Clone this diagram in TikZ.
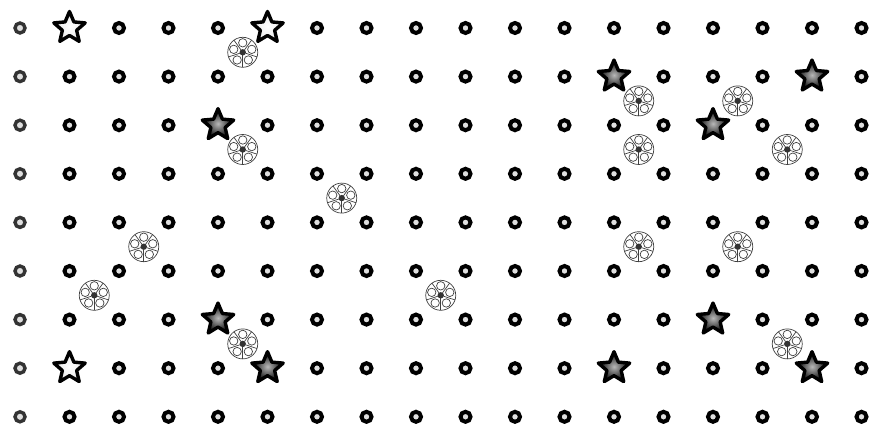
\documentclass[tikz,border=0pt]{standalone}
\usetikzlibrary{shapes.geometric}
\tikzset{
  dotring/.style={circle,draw=black,line width=4pt,minimum size=10pt,inner sep=0pt,fill=gray!25},
  dotringlight/.style={dotring,line width=3.4pt,draw=black!80},
  starbase/.style={star,star points=5,star point ratio=2.2,minimum size=33pt,inner sep=0pt,draw=black,line width=3.4pt,line join=round},
  stardark/.style={starbase,inner color=gray!55,outer color=black},
  starlight/.style={starbase,inner color=white,outer color=gray!20},
  flowerline/.style={draw=gray!50!black,line width=0.7pt},
  flower/.pic={
    \draw[flowerline] (0,0) circle (15pt);
    \foreach \a in {90,162,234,306,378}{
      \draw[flowerline] (\a:9.5pt) circle (4.2pt);
      \draw[flowerline] (\a+36:3pt) -- (\a+36:15pt);
    }
    \fill[gray!40!black] (0,0) circle (3.2pt);
  }
}
\expandafter\def\csname isstar1-0\endcsname{}
\expandafter\def\csname isstar5-0\endcsname{}
\expandafter\def\csname isstar4-2\endcsname{}
\expandafter\def\csname isstar4-6\endcsname{}
\expandafter\def\csname isstar1-7\endcsname{}
\expandafter\def\csname isstar5-7\endcsname{}
\expandafter\def\csname isstar12-1\endcsname{}
\expandafter\def\csname isstar16-1\endcsname{}
\expandafter\def\csname isstar14-2\endcsname{}
\expandafter\def\csname isstar14-6\endcsname{}
\expandafter\def\csname isstar12-7\endcsname{}
\expandafter\def\csname isstar16-7\endcsname{}
\begin{document}
\begin{tikzpicture}[x=1pt,y=-1pt]
  \fill[white] (0,0) rectangle (871,425);
  \useasboundingbox (0,0) rectangle (871,425);
  % grid of ring dots
  \foreach \i in {0,...,17}{
    \foreach \j in {0,...,8}{
      \pgfmathsetmacro\px{20+49.5*\i}
      \pgfmathsetmacro\py{28+48.6*\j}
      \ifcsname isstar\i-\j\endcsname\else
        \ifnum\i=0
          \node[dotringlight] (d-\i-\j) at (\px,\py) {};
        \else
          \node[dotring] (d-\i-\j) at (\px,\py) {};
        \fi
      \fi
    }
  }
  % stars
  \foreach \i/\j/\s in {1/0/starlight,5/0/starlight,4/2/stardark,4/6/stardark,1/7/starlight,5/7/stardark,
                        12/1/stardark,16/1/stardark,14/2/stardark,14/6/stardark,12/7/stardark,16/7/stardark}{
    \node[\s] (s-\i-\j) at (20+49.5*\i, 28+48.6*\j) {};
  }
  % flowers
  \foreach \a/\b [count=\n] in {4.5/0.5,4.5/2.5,6.5/3.5,2.5/4.5,1.5/5.5,8.5/5.5,4.5/6.5,
                                12.5/1.5,14.5/1.5,12.5/2.5,15.5/2.5,12.5/4.5,14.5/4.5,15.5/6.5}{
    \coordinate (f\n) at (20+49.5*\a, 28+48.6*\b);
    \pic at (f\n) {flower};
  }
\end{tikzpicture}
\end{document}
